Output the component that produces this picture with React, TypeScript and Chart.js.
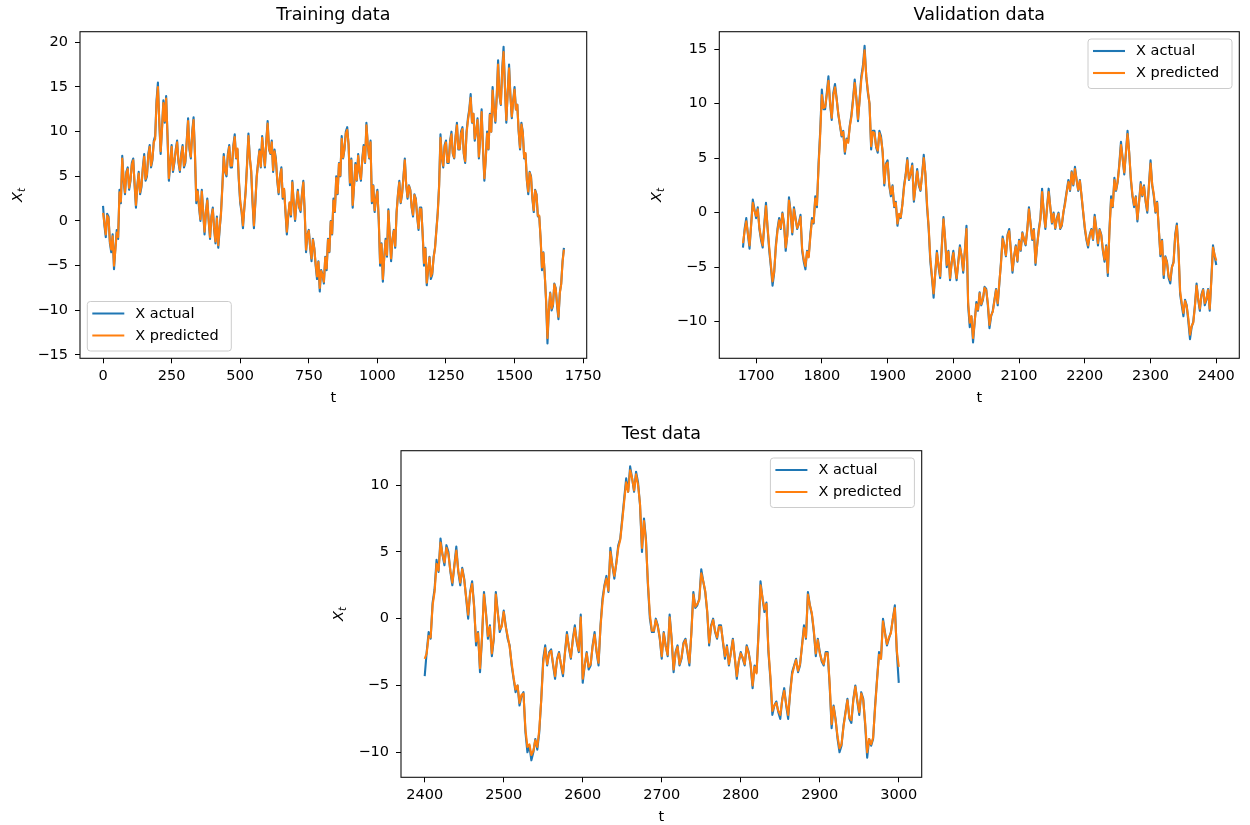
import React, { useEffect, useRef } from "react";
import { Chart, registerables } from "chart.js";

Chart.register(...registerables);

// ---------------- data ----------------
const seriesLabels = ["X actual", "X predicted"];

// Training data: t = 0 .. 1680, every 5 steps
const trainStart = 0;
const trainStep = 5;
const trainActual = [
  1.7, -0.5, -1.8, 0.8, 0.5, -2.5, -3.5, -1.5, -5.4, -3.0,
  -1.0, -2.0, 3.5, 2.0, 7.3, 4.5, 3.0, 5.5, 6.0, 3.5,
  4.5, 6.5, 7.0, 4.0, 1.5, 4.0, 5.5, 3.0, 3.8, 6.0,
  7.5, 4.5, 5.0, 7.5, 8.5, 6.0, 6.8, 9.0, 9.5, 13.5,
  15.5, 11.0, 7.5, 10.5, 13.5, 11.0, 14.0, 9.5, 4.5, 6.5,
  8.5, 5.5, 6.5, 8.0, 9.0, 6.5, 5.5, 7.5, 8.5, 6.0,
  6.5, 9.0, 11.5, 8.0, 7.0, 10.0, 11.6, 7.5, 2.0, 3.5,
  1.5, 0.0, 3.5, 1.0, -1.5, 1.0, 2.5, 0.0, -2.0, 0.5,
  1.5, -1.0, -2.5, 0.5, -3.0, -1.0, 1.0, 4.0, 7.5, 5.5,
  5.0, 7.5, 8.5, 6.0, 6.0, 8.5, 9.7, 7.0, 8.0, 4.5,
  2.0, 1.0, -0.8, 1.5, 3.5, 6.5, 9.8, 7.0, 5.5, 2.0,
  -0.8, 2.0, 5.0, 6.5, 8.0, 6.0, 9.5, 7.5, 6.0, 9.0,
  11.2, 8.0, 7.5, 9.0, 5.5, 8.0, 7.0, 4.5, 3.0, 5.0,
  6.0, 2.5, 3.5, 1.0, -1.5, 0.5, 2.0, 0.5, 4.5, 2.0,
  0.0, 2.0, 3.5, 1.5, 1.0, 3.0, 4.5, 1.0, -3.5, -1.5,
  -1.0, -3.0, -4.5, -2.0, -3.0, -5.0, -6.5, -4.5, -7.9, -5.5,
  -6.0, -7.0, -4.0, -5.5, -2.0, -3.5, 0.0, -1.5, 2.5, 1.0,
  5.0, 3.0, 6.5, 5.0, 9.5, 7.0, 8.0, 10.0, 10.5, 8.5,
  4.0, 7.0, 1.5, 4.0, 6.5, 4.5, 7.5, 5.5, 4.5, 7.0,
  8.5, 6.5, 11.0, 8.5, 7.0, 9.0, 2.0, 4.0, 1.0, 2.5,
  3.5, 0.0, -5.0, -2.5, -6.8, -4.0, -2.0, -4.0, 1.3, -1.5,
  -4.5, -2.0, -1.0, -3.0, 1.0, 3.0, 4.5, 2.0, 3.0, 5.0,
  7.0, 4.0, 2.5, 4.0, 3.5, 1.5, 0.5, 3.0, 2.5, 0.5,
  -1.0, 1.5, 1.5, -1.5, -5.0, -3.0, -7.2, -5.5, -4.0, -6.5,
  -6.0, -4.0, -3.0, -1.0, 1.0, 4.0, 9.7, 7.0, 6.0, 8.5,
  9.0, 6.5, 6.5, 9.0, 10.0, 7.5, 7.0, 9.5, 11.0, 8.0,
  8.0, 10.0, 10.5, 7.5, 6.5, 10.0, 11.5, 12.5, 14.2, 11.0,
  12.0, 9.0, 10.0, 11.5, 7.0, 9.5, 12.5, 8.0, 4.5, 7.0,
  10.0, 8.0, 12.0, 10.0, 15.0, 12.5, 11.0, 14.0, 18.0, 14.0,
  13.0, 17.0, 19.5, 15.0, 11.0, 14.5, 17.5, 14.0, 11.5, 13.5,
  15.0, 12.5, 13.0, 10.0, 8.0, 11.0, 10.0, 7.0, 7.5, 4.5,
  3.0, 5.5, 5.0, 2.5, 1.0, 3.5, 3.0, 0.5, 0.5, -2.0,
  -5.5, -3.5, -6.0, -9.0, -13.7, -10.0, -8.0, -10.0, -9.5, -7.0,
  -7.5, -9.5, -11.0, -8.0, -7.0, -4.5, -3.0,
];
const trainPredicted = [
  0.9, -0.3, -1.5, 0.6, 0.3, -2.3, -3.2, -1.7, -5.0, -3.2,
  -1.3, -1.8, 3.2, 2.2, 7.0, 4.7, 3.2, 5.3, 5.8, 3.7,
  4.6, 6.3, 6.8, 4.2, 1.8, 3.8, 5.3, 3.2, 4.0, 5.8,
  7.2, 4.7, 5.2, 7.3, 8.3, 6.2, 7.0, 8.8, 9.2, 13.2,
  15.0, 11.2, 7.8, 10.3, 13.2, 11.2, 13.7, 9.6, 4.8, 6.4,
  8.3, 5.7, 6.7, 7.8, 8.8, 6.7, 5.7, 7.3, 8.3, 6.2,
  6.7, 8.8, 11.2, 8.2, 7.2, 9.8, 11.3, 7.6, 2.3, 3.3,
  1.7, 0.2, 3.3, 1.1, -1.2, 0.9, 2.3, 0.1, -1.8, 0.4,
  1.3, -0.8, -2.3, 0.3, -2.7, -0.8, 0.8, 3.8, 7.2, 5.6,
  5.2, 7.3, 8.3, 6.2, 6.2, 8.3, 9.4, 7.1, 8.1, 4.7,
  2.3, 1.2, -0.5, 1.4, 3.3, 6.3, 9.5, 7.1, 5.7, 2.2,
  -0.5, 2.0, 4.8, 6.4, 7.8, 6.1, 9.3, 7.6, 6.2, 8.8,
  10.9, 8.1, 7.6, 8.8, 5.7, 7.8, 6.8, 4.7, 3.2, 4.9,
  5.8, 2.7, 3.6, 1.1, -1.2, 0.6, 2.1, 0.7, 4.3, 2.1,
  0.2, 1.9, 3.3, 1.6, 1.2, 2.9, 4.3, 1.2, -3.2, -1.6,
  -1.1, -2.9, -4.2, -2.1, -3.1, -4.8, -6.2, -4.6, -7.5, -5.6,
  -6.1, -6.8, -4.1, -5.3, -2.1, -3.4, -0.1, -1.4, 2.3, 1.1,
  4.8, 3.1, 6.4, 5.1, 9.2, 7.1, 8.1, 9.8, 10.2, 8.6,
  4.3, 6.8, 1.8, 3.9, 6.3, 4.6, 7.3, 5.6, 4.7, 6.8,
  8.3, 6.6, 10.7, 8.6, 7.1, 8.8, 2.2, 3.9, 1.2, 2.4,
  3.3, 0.2, -4.7, -2.6, -6.5, -4.1, -2.2, -3.8, 1.1, -1.4,
  -4.2, -2.1, -1.1, -2.8, 0.9, 2.9, 4.3, 2.1, 3.1, 4.8,
  6.8, 4.1, 2.7, 3.9, 3.4, 1.6, 0.7, 2.9, 2.4, 0.6,
  -0.8, 1.4, 1.3, -1.4, -4.7, -3.1, -6.9, -5.4, -4.1, -6.2,
  -5.8, -4.1, -3.1, -1.1, 0.8, 3.8, 9.3, 7.1, 6.2, 8.3,
  8.8, 6.6, 6.6, 8.8, 9.7, 7.6, 7.1, 9.3, 10.7, 8.1,
  8.1, 9.8, 10.3, 7.6, 6.7, 9.8, 11.2, 12.3, 13.8, 11.1,
  12.0, 9.2, 10.0, 11.3, 7.2, 9.3, 12.2, 8.2, 4.8, 6.9,
  9.8, 8.1, 11.9, 10.0, 14.6, 12.4, 11.2, 13.8, 17.5, 14.1,
  13.1, 16.7, 18.9, 15.0, 11.3, 14.3, 17.1, 14.0, 11.7, 13.4,
  14.7, 12.5, 13.0, 10.1, 8.2, 10.8, 9.9, 7.1, 7.6, 4.6,
  3.3, 5.4, 4.9, 2.6, 1.2, 3.4, 2.9, 0.6, 0.6, -1.9,
  -5.2, -3.6, -5.9, -8.8, -13.1, -10.0, -8.1, -9.8, -9.3, -7.1,
  -7.6, -9.3, -10.7, -8.1, -7.1, -4.6, -3.2,
];

// Validation data: t = 1680 .. 2400, every 2.5 steps
const valStart = 1680;
const valStep = 2.5;
const valActual = [
  -3.2, -1.5, -0.5, -2.0, -3.3, -1.0, 1.2, 0.3, -0.5, 0.5,
  -1.5, -2.5, -3.2, -1.0, 0.9, -1.5, -3.5, -5.0, -6.7, -5.5,
  -3.0, -1.5, -0.5, -1.5, 0.0, -1.0, -3.5, -2.0, 1.4, 0.0,
  -2.0, 0.5, -0.5, -1.5, -1.0, -0.2, -3.5, -4.5, -5.2, -3.5,
  -4.0, -2.0, -0.5, -1.0, 1.5, 0.5, 4.5, 7.5, 11.3, 9.5,
  9.5, 11.0, 12.5, 10.0, 8.5, 11.0, 11.8, 10.5, 9.0, 8.0,
  7.0, 7.5, 5.4, 6.8, 6.5, 8.0, 9.0, 10.5, 12.2, 10.5,
  8.4, 10.5, 12.5, 13.5, 15.3, 12.5, 11.0, 10.0, 5.8, 7.5,
  7.5, 6.0, 5.5, 7.5, 7.0, 5.5, 2.5, 4.5, 4.8, 2.5,
  1.5, 2.5, 0.5, 1.0, -1.2, -0.2, -0.5, 0.8, 2.5, 3.5,
  5.0, 3.0, 3.5, 4.5, 1.0, 2.5, 4.0, 2.5, 2.0, 3.5,
  5.3, 3.5, 0.5, -1.5, -4.5, -6.0, -7.8, -5.5, -3.5, -5.0,
  -6.0, -3.0, -0.4, -2.5, -5.0, -3.5, -6.2, -4.5, -3.5, -5.0,
  -6.2, -4.5, -3.0, -4.0, -5.5, -3.5, -1.2, -8.5, -10.5, -9.5,
  -11.9, -10.0, -8.2, -9.0, -7.3, -8.5, -8.0, -6.8, -7.0, -8.5,
  -10.6, -9.5, -9.0, -8.0, -7.0, -8.5, -6.5, -4.5, -2.2, -3.0,
  -4.0, -2.0, -1.5, -3.5, -5.5, -4.0, -3.0, -4.5, -2.5, -3.5,
  -1.8, -2.5, -3.0, -1.5, 0.5, -1.0, -2.5, -1.5, -4.8, -3.0,
  -1.5, -0.5, 2.2, 0.0, -1.5, 0.5, 2.2, 0.5, -1.0, 0.0,
  -1.5, -0.5, 0.0, -1.5, -1.2, 0.0, 1.0, 2.0, 3.0, 2.0,
  3.8, 2.5, 4.2, 3.0, 2.0, 3.0, 1.5, 0.0, -1.5, -2.5,
  -3.2, -2.0, -1.5, -2.5, -0.2, -1.5, -3.0, -1.5, -2.0, -3.5,
  -4.5, -3.0, -5.8, -1.5, 1.5, 0.5, 3.2, 2.0, 2.8, 4.5,
  6.5, 5.0, 3.5, 5.5, 7.5, 5.5, 3.0, 1.5, 0.5, 1.5,
  -0.8, 1.0, 2.8, 1.5, 2.5, 1.0, 0.0, 2.5, 4.8, 2.5,
  1.5, 0.0, 1.0, -1.5, -4.0, -2.5, -6.0, -4.0, -4.5, -6.0,
  -6.5, -5.0, -4.5, -2.0, -1.0, -3.5, -7.5, -8.5, -9.5, -8.0,
  -8.5, -10.0, -11.6, -10.5, -10.0, -8.5, -6.5, -8.0, -9.0, -7.5,
  -7.0, -8.5, -8.0, -7.0, -9.0, -6.0, -3.0, -4.0, -4.8,
];
const valPredicted = [
  -2.8, -1.7, -0.8, -1.9, -3.0, -1.1, 0.9, 0.2, -0.3, 0.3,
  -1.4, -2.3, -3.0, -1.2, 0.6, -1.4, -3.2, -4.8, -6.3, -5.4,
  -3.2, -1.7, -0.7, -1.4, -0.1, -1.1, -3.2, -2.1, 1.1, 0.1,
  -1.8, 0.3, -0.6, -1.4, -1.0, -0.4, -3.3, -4.3, -4.9, -3.6,
  -4.1, -2.2, -0.7, -0.9, 1.3, 0.7, 4.2, 7.2, 10.8, 9.6,
  9.7, 10.8, 12.1, 10.1, 8.7, 10.8, 11.5, 10.4, 9.1, 8.1,
  7.1, 7.4, 5.6, 6.7, 6.4, 7.9, 8.8, 10.3, 11.9, 10.5,
  8.6, 10.3, 12.2, 13.2, 14.9, 12.6, 11.2, 10.0, 6.1, 7.4,
  7.3, 6.1, 5.7, 7.3, 6.8, 5.6, 2.7, 4.4, 4.6, 2.6,
  1.7, 2.4, 0.6, 0.9, -1.0, -0.1, -0.4, 0.7, 2.3, 3.4,
  4.8, 3.1, 3.6, 4.3, 1.2, 2.4, 3.8, 2.6, 2.1, 3.4,
  5.0, 3.6, 0.8, -1.3, -4.2, -5.8, -7.4, -5.6, -3.7, -4.8,
  -5.8, -3.2, -0.6, -2.4, -4.8, -3.6, -6.0, -4.6, -3.7, -4.9,
  -6.0, -4.6, -3.2, -3.9, -5.3, -3.6, -1.5, -8.2, -10.1, -9.5,
  -11.5, -10.0, -8.4, -8.9, -7.4, -8.4, -7.9, -6.9, -7.1, -8.3,
  -10.3, -9.4, -9.1, -8.1, -7.1, -8.3, -6.4, -4.7, -2.4, -3.0,
  -3.9, -2.1, -1.7, -3.4, -5.3, -4.0, -3.1, -4.4, -2.6, -3.4,
  -1.9, -2.4, -2.9, -1.6, 0.3, -1.0, -2.4, -1.6, -4.6, -3.0,
  -1.7, -0.6, 1.9, 0.1, -1.3, 0.4, 1.9, 0.5, -0.9, -0.1,
  -1.4, -0.6, -0.1, -1.4, -1.1, 0.1, 0.8, 1.9, 2.8, 2.1,
  3.7, 2.6, 4.0, 3.0, 2.1, 2.9, 1.6, 0.1, -1.3, -2.4,
  -3.0, -2.1, -1.6, -2.4, -0.4, -1.5, -2.8, -1.6, -2.1, -3.4,
  -4.3, -3.1, -5.5, -1.7, 1.2, 0.6, 3.0, 2.1, 2.9, 4.3,
  6.2, 5.0, 3.7, 5.4, 7.2, 5.5, 3.2, 1.6, 0.7, 1.4,
  -0.6, 0.9, 2.6, 1.6, 2.4, 1.1, 0.2, 2.4, 4.5, 2.6,
  1.7, 0.1, 0.9, -1.4, -3.8, -2.6, -5.7, -4.1, -4.6, -5.8,
  -6.2, -5.0, -4.6, -2.2, -1.2, -3.4, -7.2, -8.3, -9.2, -8.1,
  -8.6, -9.7, -11.2, -10.4, -10.1, -8.6, -6.7, -7.9, -8.8, -7.6,
  -7.1, -8.3, -7.9, -7.1, -8.8, -6.2, -3.2, -3.9, -4.4,
];

// Test data: t = 2400 .. 3000, every 2.5 steps
const testStart = 2400;
const testStep = 2.5;
const testActual = [
  -4.3, -2.5, -1.0, -1.5, 1.2, 2.2, 4.4, 3.5, 6.0, 4.8,
  4.0, 5.5, 5.0, 3.5, 2.5, 4.0, 5.4, 3.5, 2.5, 3.8,
  3.0, 1.5, 0.0, 2.0, 2.8, 1.0, -2.0, -1.0, -4.0, -1.5,
  2.0, 0.5, -1.5, -0.5, -2.8, -1.5, 2.0, 0.5, -1.0, -0.5,
  0.6, -0.5, -1.5, -2.0, -3.5, -4.5, -5.5, -5.0, -6.5, -5.8,
  -5.5, -8.5, -10.0, -9.5, -10.6, -10.0, -9.0, -9.8, -8.5, -6.0,
  -3.0, -2.0, -3.5, -2.5, -2.3, -3.5, -4.5, -3.0, -2.5, -3.5,
  -4.3, -2.5, -1.0, -2.2, -3.0, -1.5, -0.5, -1.8, -2.5, 0.3,
  -4.8, -3.5, -2.5, -3.8, -3.5, -2.0, -1.0, -2.5, -3.5, -0.5,
  1.5, 2.5, 3.2, 2.0, 5.3, 4.0, 3.0, 4.2, 5.5, 6.0,
  7.5, 9.0, 10.5, 9.5, 11.4, 10.5, 9.5, 11.0, 10.2, 8.5,
  5.0, 7.5, 6.0, 2.5, 0.0, -1.0, -1.0, 0.0, -0.5, -1.5,
  -3.0, -1.0, -2.0, -2.8, 0.3, -1.5, -4.0, -2.5, -2.0, -3.5,
  -3.0, -1.8, -1.5, -2.5, -3.5, -1.0, 2.0, 0.8, 1.0, 1.5,
  3.7, 2.8, 2.0, 0.5, -2.0, -0.5, 0.0, -1.0, -1.5, -0.5,
  -0.5, -1.8, -3.0, -2.0, -3.5, -2.5, -1.5, -3.0, -4.5, -3.2,
  -2.5, -3.0, -3.5, -2.0, -2.5, -3.5, -5.2, -3.5, -4.0, -1.0,
  2.8, 1.5, 0.5, 1.2, -2.5, -4.5, -7.2, -6.5, -6.2, -7.0,
  -7.5, -6.0, -5.2, -6.5, -7.5, -5.5, -4.0, -3.5, -3.0, -4.0,
  -3.5, -2.0, -0.5, -1.5, 2.0, 1.0, 0.3, -1.0, -2.8, -1.5,
  -2.5, -3.2, -3.5, -2.5, -2.5, -5.0, -8.2, -6.5, -7.5, -9.0,
  -10.0, -9.5, -8.0, -7.0, -6.0, -7.5, -7.8, -6.0, -5.0, -6.2,
  -7.2, -5.5, -6.0, -8.0, -10.4, -9.0, -9.5, -9.0, -6.5, -4.5,
  -2.5, -3.0, 0.0, -1.0, -2.0, -1.5, -1.0, 0.0, 1.0, -2.5,
  -4.8,
];
const testPredicted = [
  -3.0, -2.6, -1.3, -1.4, 1.0, 2.0, 4.1, 3.6, 5.7, 4.8,
  4.2, 5.3, 4.8, 3.6, 2.7, 3.9, 5.1, 3.6, 2.7, 3.7,
  2.9, 1.6, 0.3, 1.9, 2.6, 0.9, -1.7, -1.1, -3.7, -1.4,
  1.8, 0.4, -1.3, -0.6, -2.6, -1.4, 1.8, 0.4, -0.8, -0.6,
  0.5, -0.6, -1.3, -2.1, -3.3, -4.4, -5.3, -5.0, -6.3, -5.7,
  -5.6, -8.3, -9.6, -9.4, -10.2, -9.9, -9.1, -9.6, -8.3, -6.1,
  -3.3, -2.2, -3.4, -2.6, -2.4, -3.4, -4.3, -3.1, -2.6, -3.4,
  -4.1, -2.6, -1.2, -2.1, -2.9, -1.6, -0.7, -1.7, -2.4, 0.1,
  -4.5, -3.5, -2.6, -3.6, -3.4, -2.1, -1.2, -2.4, -3.3, -0.6,
  1.2, 2.4, 3.0, 2.1, 5.0, 4.0, 3.2, 4.1, 5.3, 5.9,
  7.3, 8.8, 10.2, 9.5, 11.1, 10.5, 9.6, 10.8, 10.0, 8.6,
  5.3, 7.3, 5.8, 2.7, 0.3, -0.9, -0.9, -0.1, -0.6, -1.4,
  -2.8, -1.1, -2.1, -2.7, 0.1, -1.5, -3.8, -2.6, -2.1, -3.4,
  -2.9, -1.9, -1.6, -2.4, -3.3, -1.1, 1.8, 0.9, 1.1, 1.4,
  3.4, 2.8, 2.1, 0.6, -1.8, -0.6, -0.1, -0.9, -1.4, -0.6,
  -0.6, -1.7, -2.8, -2.1, -3.4, -2.6, -1.6, -2.9, -4.3, -3.2,
  -2.6, -2.9, -3.4, -2.1, -2.6, -3.4, -5.0, -3.6, -4.1, -1.2,
  2.5, 1.6, 0.7, 1.1, -2.3, -4.3, -6.9, -6.5, -6.3, -6.9,
  -7.2, -6.1, -5.4, -6.4, -7.2, -5.6, -4.2, -3.6, -3.1, -3.9,
  -3.4, -2.1, -0.7, -1.4, 1.8, 1.0, 0.4, -0.9, -2.6, -1.6,
  -2.6, -3.1, -3.4, -2.6, -2.6, -4.8, -7.9, -6.6, -7.6, -8.8,
  -9.7, -9.4, -8.1, -7.1, -6.1, -7.4, -7.6, -6.1, -5.1, -6.1,
  -7.0, -5.6, -6.1, -7.8, -10.0, -9.0, -9.4, -8.9, -6.7, -4.6,
  -2.7, -3.0, -0.2, -1.1, -1.9, -1.4, -1.1, 0.0, 0.8, -2.4,
  -3.6,
];

// tick values
const trainXTicks = [0, 250, 500, 750, 1000, 1250, 1500, 1750];
const trainYTicks = [-15, -10, -5, 0, 5, 10, 15, 20];
const valXTicks = [1700, 1800, 1900, 2000, 2100, 2200, 2300, 2400];
const valYTicks = [-10, -5, 0, 5, 10, 15];
const testXTicks = [2400, 2500, 2600, 2700, 2800, 2900, 3000];
const testYTicks = [-10, -5, 0, 5, 10];

// ---------------- styling / layout ----------------
const FIG_W = 1250;
const FIG_H = 825;
const FONT = "'DejaVu Sans', 'Liberation Sans', sans-serif";
const BLUE = "#1f77b4";
const ORANGE = "#ff7f0e";
const TEXT = "#000000";
const YW = 50;
const XH = 40;

type Panel = {
  title: string;
  start: number;
  step: number;
  actual: number[];
  predicted: number[];
  area: { l: number; t: number; r: number; b: number };
  xr: [number, number];
  yr: [number, number];
  xTicks: number[];
  yTicks: number[];
  legend: "lowerleft" | "upperright";
};

const panels: Panel[] = [
  {
    title: "Training data",
    start: trainStart,
    step: trainStep,
    actual: trainActual,
    predicted: trainPredicted,
    area: { l: 80, t: 31.7, r: 586.7, b: 358.3 },
    xr: [-84, 1763],
    yr: [-15.37, 21.19],
    xTicks: trainXTicks,
    yTicks: trainYTicks,
    legend: "lowerleft",
  },
  {
    title: "Validation data",
    start: valStart,
    step: valStep,
    actual: valActual,
    predicted: valPredicted,
    area: { l: 719.3, t: 31.7, r: 1239.3, b: 358.3 },
    xr: [1644, 2435],
    yr: [-13.36, 16.6],
    xTicks: valXTicks,
    yTicks: valYTicks,
    legend: "upperright",
  },
  {
    title: "Test data",
    start: testStart,
    step: testStep,
    actual: testActual,
    predicted: testPredicted,
    area: { l: 401, t: 450.7, r: 921.7, b: 777.3 },
    xr: [2370, 3029],
    yr: [-11.87, 12.57],
    xTicks: testXTicks,
    yTicks: testYTicks,
    legend: "upperright",
  },
];

function toPoints(start: number, step: number, values: number[]) {
  return values.map((y, i) => ({ x: start + i * step, y }));
}

function fmt(v: number | string) {
  const n = Number(v);
  return n < 0 ? "\u2212" + Math.abs(n) : String(n);
}

function makeDecor(p: Panel) {
  return {
    id: "decor",
    afterDraw(chart: any) {
      const ctx: CanvasRenderingContext2D = chart.ctx;
      const a = chart.chartArea;
      ctx.save();
      // frame (spines)
      ctx.strokeStyle = "#111";
      ctx.lineWidth = 1.1;
      ctx.strokeRect(a.left, a.top, a.right - a.left, a.bottom - a.top);

      // title
      ctx.fillStyle = TEXT;
      ctx.font = `17.5px ${FONT}`;
      ctx.textAlign = "center";
      ctx.textBaseline = "alphabetic";
      ctx.fillText(p.title, (a.left + a.right) / 2, a.top - 12);

      // x axis label
      ctx.font = `14.5px ${FONT}`;
      ctx.fillText("t", (a.left + a.right) / 2, a.bottom + 44);

      // y axis label X_t
      ctx.save();
      ctx.translate(a.left - 58.5, (a.top + a.bottom) / 2);
      ctx.rotate(-Math.PI / 2);
      ctx.textAlign = "left";
      ctx.font = `italic 14.5px ${FONT}`;
      const wX = ctx.measureText("X").width;
      ctx.font = `italic 10.2px ${FONT}`;
      const wt = ctx.measureText("t").width;
      const x0 = -(wX + wt) / 2;
      ctx.font = `italic 14.5px ${FONT}`;
      ctx.fillText("X", x0, 0);
      ctx.font = `italic 10.2px ${FONT}`;
      ctx.fillText("t", x0 + wX, 3);
      ctx.restore();

      // legend
      const lw = 144;
      const lh = 49.5;
      const pad = 7.3;
      const lx = p.legend === "lowerleft" ? a.left + pad : a.right - pad - lw;
      const ly = p.legend === "lowerleft" ? a.bottom - pad - lh : a.top + pad;
      ctx.beginPath();
      (ctx as any).roundRect(lx, ly, lw, lh, 3);
      ctx.fillStyle = "rgba(255,255,255,0.8)";
      ctx.fill();
      ctx.strokeStyle = "#cccccc";
      ctx.lineWidth = 1;
      ctx.stroke();
      const rows = [ly + 12, ly + 34];
      chart.data.datasets.forEach((ds: any, i: number) => {
        ctx.beginPath();
        ctx.strokeStyle = ds.borderColor;
        ctx.lineWidth = 2.1;
        ctx.moveTo(lx + 5, rows[i]);
        ctx.lineTo(lx + 37, rows[i]);
        ctx.stroke();
        ctx.fillStyle = TEXT;
        ctx.font = `14.5px ${FONT}`;
        ctx.textAlign = "left";
        ctx.textBaseline = "middle";
        ctx.fillText(ds.label, lx + 48, rows[i] + 0.5);
      });
      ctx.restore();
    },
  };
}

function PanelChart({ p }: { p: Panel }) {
  const ref = useRef<HTMLCanvasElement | null>(null);
  useEffect(() => {
    if (!ref.current) return;
    const tickFont = { family: FONT, size: 14.5 };
    const gridOpts = {
      display: true,
      drawOnChartArea: false,
      drawTicks: true,
      tickLength: 5,
      tickColor: "#000",
      tickWidth: 1,
    };
    const chart = new Chart(ref.current, {
      type: "line",
      data: {
        datasets: [
          {
            label: seriesLabels[0],
            data: toPoints(p.start, p.step, p.actual),
            borderColor: BLUE,
            backgroundColor: BLUE,
            borderWidth: 2.1,
            pointRadius: 0,
            tension: 0,
            borderJoinStyle: "round",
            order: 1,
          },
          {
            label: seriesLabels[1],
            data: toPoints(p.start, p.step, p.predicted),
            borderColor: ORANGE,
            backgroundColor: ORANGE,
            borderWidth: 2.1,
            pointRadius: 0,
            tension: 0,
            borderJoinStyle: "round",
            order: 0,
          },
        ],
      },
      options: {
        responsive: false,
        animation: false,
        devicePixelRatio: 1,
        events: [],
        layout: {
          padding: {
            left: p.area.l - YW,
            right: FIG_W - p.area.r,
            top: p.area.t,
            bottom: FIG_H - p.area.b - XH,
          },
        },
        plugins: {
          legend: { display: false },
          tooltip: { enabled: false },
          title: { display: false },
        },
        scales: {
          x: {
            type: "linear",
            min: p.xr[0],
            max: p.xr[1],
            afterFit: (s: any) => {
              s.height = XH;
            },
            afterBuildTicks: (s: any) => {
              s.ticks = p.xTicks.map((v) => ({ value: v }));
            },
            ticks: {
              autoSkip: false,
              maxRotation: 0,
              minRotation: 0,
              font: tickFont,
              color: TEXT,
              padding: 4,
              callback: (v: any) => fmt(v),
            },
            grid: gridOpts,
            border: { display: false },
          },
          y: {
            type: "linear",
            min: p.yr[0],
            max: p.yr[1],
            afterFit: (s: any) => {
              s.width = YW;
            },
            afterBuildTicks: (s: any) => {
              s.ticks = p.yTicks.map((v) => ({ value: v }));
            },
            ticks: {
              autoSkip: false,
              font: tickFont,
              color: TEXT,
              padding: 7,
              callback: (v: any) => fmt(v),
            },
            grid: gridOpts,
            border: { display: false },
          },
        },
      } as any,
      plugins: [makeDecor(p)],
    });
    return () => chart.destroy();
  }, [p]);
  return (
    <canvas
      ref={ref}
      width={FIG_W}
      height={FIG_H}
      style={{ position: "absolute", left: 0, top: 0, width: FIG_W, height: FIG_H }}
    />
  );
}

export default function App() {
  return (
    <div
      style={{
        position: "fixed",
        left: 0,
        top: 0,
        width: FIG_W,
        height: FIG_H,
        background: "#ffffff",
        overflow: "hidden",
      }}
    >
      {panels.map((p) => (
        <PanelChart key={p.title} p={p} />
      ))}
    </div>
  );
}
